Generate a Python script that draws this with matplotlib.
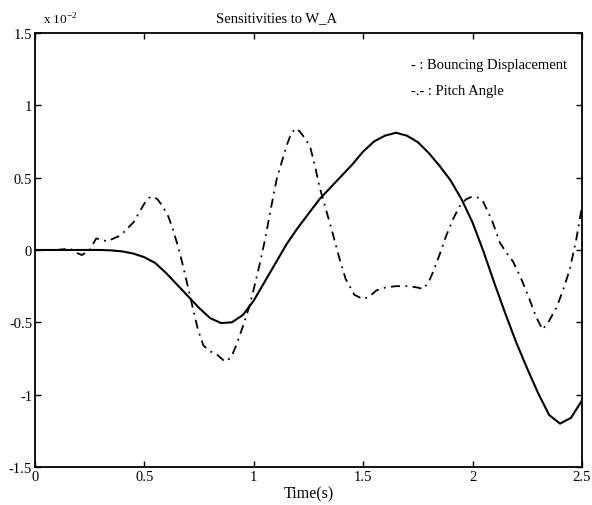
import matplotlib
matplotlib.use('Agg')
import matplotlib.pyplot as plt

# values, y in units of 1e-2
t_bounce = [0, 0.1, 0.2, 0.3, 0.35, 0.4, 0.45, 0.5, 0.55, 0.6, 0.65, 0.7, 0.75, 0.8,
            0.85, 0.9, 0.95, 1.0, 1.05, 1.1, 1.15, 1.2, 1.25, 1.3, 1.35, 1.4, 1.45, 1.5,
            1.55, 1.6, 1.65, 1.7, 1.75, 1.8, 1.85, 1.9, 1.95, 2.0, 2.05, 2.1, 2.15, 2.2,
            2.25, 2.3, 2.35, 2.4, 2.45, 2.5]
y_bounce = [0, 0, 0, 0, -0.003, -0.01, -0.025, -0.05, -0.09, -0.16, -0.24, -0.32, -0.40,
            -0.47, -0.505, -0.50, -0.45, -0.35, -0.22, -0.09, 0.04, 0.15, 0.25, 0.35,
            0.43, 0.51, 0.59, 0.68, 0.75, 0.79, 0.81, 0.79, 0.745, 0.67, 0.58, 0.48,
            0.35, 0.19, -0.01, -0.23, -0.44, -0.64, -0.82, -0.99, -1.14, -1.2, -1.16,
            -1.04]

t_pitch = [0, 0.1, 0.16, 0.19, 0.215, 0.25, 0.28, 0.33, 0.39, 0.45, 0.5, 0.52, 0.54,
           0.56, 0.585, 0.61, 0.63, 0.655, 0.677, 0.7, 0.72, 0.745, 0.77, 0.8, 0.83,
           0.86, 0.877, 0.9, 0.92, 0.95, 0.98, 1.005, 1.03, 1.05, 1.075, 1.105, 1.15,
           1.17, 1.19, 1.21, 1.24, 1.26, 1.28, 1.3, 1.33, 1.36, 1.39, 1.42, 1.46, 1.5,
           1.53, 1.56, 1.6, 1.65, 1.71, 1.75, 1.775, 1.8, 1.82, 1.85, 1.88, 1.91, 1.94,
           1.97, 2.0, 2.03, 2.05, 2.09, 2.125, 2.16, 2.185, 2.22, 2.26, 2.29, 2.32,
           2.35, 2.386, 2.42, 2.445, 2.475, 2.5]
y_pitch = [0, 0, 0.01, -0.02, -0.035, 0, 0.08, 0.06, 0.10, 0.19, 0.32, 0.36, 0.37,
           0.35, 0.30, 0.23, 0.145, 0.02, -0.11, -0.26, -0.39, -0.55, -0.66, -0.70,
           -0.72, -0.76, -0.77, -0.73, -0.66, -0.53, -0.39, -0.24, -0.08, 0.06, 0.26,
           0.49, 0.72, 0.80, 0.84, 0.82, 0.76, 0.70, 0.58, 0.44, 0.28, 0.12, -0.05,
           -0.20, -0.31, -0.34, -0.32, -0.28, -0.26, -0.25, -0.25, -0.26, -0.27,
           -0.22, -0.15, -0.03, 0.10, 0.21, 0.30, 0.35, 0.37, 0.36, 0.33, 0.20, 0.05,
           -0.03, -0.08, -0.19, -0.34, -0.46, -0.55, -0.49, -0.39, -0.25, -0.13, 0.08,
           0.30]

x_ticks = [0, 0.5, 1, 1.5, 2, 2.5]
y_ticks = [-1.5, -1, -0.5, 0, 0.5, 1, 1.5]

plt.rcParams['font.family'] = 'Liberation Serif'
plt.rcParams['font.size'] = 10.5

fig = plt.figure(figsize=(5.92, 5.06), dpi=100)
ax = fig.add_axes([0.059, 0.075, 0.924, 0.858])

ax.plot(t_bounce, y_bounce, color='black', linewidth=1.5, linestyle='-')
ax.plot(t_pitch, y_pitch, color='black', linewidth=1.3, linestyle=(0, (5, 3, 1, 3)))

ax.set_xlim(0, 2.5)
ax.set_ylim(-1.5, 1.5)
ax.set_xticks(x_ticks)
ax.set_yticks(y_ticks)
ax.set_xticklabels(['%g' % v for v in x_ticks])
ax.set_yticklabels(['%g' % v for v in y_ticks])
ax.tick_params(direction='in', top=True, right=True, length=4, width=1, pad=2)
for s in ax.spines.values():
    s.set_linewidth(1.3)

ax.set_xlabel('Time(s)', fontsize=11.5, labelpad=2)
# title sits left of centre in the scan
ax.text(0.442, 1.02, 'Sensitivities to W_A', fontsize=10.5, transform=ax.transAxes,
        ha='center', va='bottom')
ax.text(0.014, 1.015, r'x 10$^{\mathregular{-2}}$', fontsize=9.5, transform=ax.transAxes,
        ha='left', va='bottom')

# legend written as plain text, as in the original
ax.text(1.72, 1.285, '- : Bouncing Displacement', fontsize=10.5, va='center')
ax.text(1.72, 1.105, '-.- : Pitch Angle', fontsize=10.5, va='center')

fig.savefig('out.png', dpi=100)
